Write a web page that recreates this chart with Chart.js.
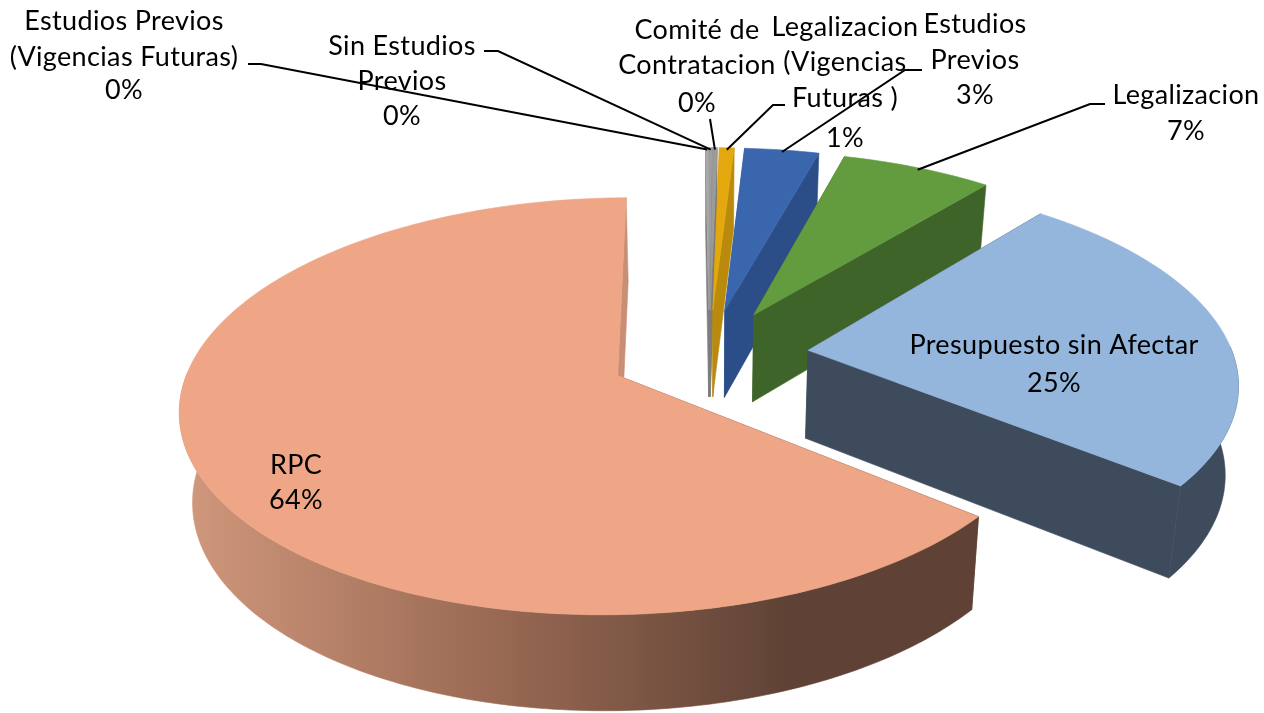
<!DOCTYPE html>
<html><head><meta charset="utf-8">
<style>html,body{margin:0;padding:0;background:#fff}#w{width:1264px;height:713px}</style>
<script src="https://cdn.jsdelivr.net/npm/chart.js@4"></script>
</head><body><div id="w"><canvas id="c" width="1264" height="713"></canvas></div>
<script>
const categories = ["Estudios Previos (Vigencias Futuras)","Sin Estudios Previos","Comité de Contratacion","Legalizacion (Vigencias Futuras )","Legalizacion Estudios Previos","Legalizacion","Presupuesto sin Afectar","RPC"];
const values = [0.15,0.1,0.2,0.65,3.3,6.7,24.8,64];
const topColors = ["#A8A8A8","#A0A0A0","#9A9A9A","#E3A80E","#3A66AE","#639C3F","#95B6DC","#EFA687"];
const sideColors = ["#7C7C7C","#7C7C7C","#7C7C7C","#B98A0B","#2C4E88","#3F6429",  "#3E4B5C","#C98F75"];
const labelLines = [["Estudios Previos","(Vigencias Futuras)"],["Sin Estudios","Previos"],["Comité de","Contratacion"],["Legalizacion","(Vigencias","Futuras )"],["Estudios","Previos"],["Legalizacion"],["Presupuesto sin Afectar"],["RPC"]];
const labelX = [124,402,697,845,975,1186,1054,296];
const labelY = [[21,57,90],[46,81,116],[30,65,103],[27,62,98,138],[24,60,95],[95,131],[345,383],[465,500]];
const leaderStubs = [[[248,64],[261,64]],[[484,51],[498,51]],[[710,119]],[[785,105],[773,105]],[[922,70],[905,70]],[[1105,104],[1090,104]],null,null];

const view = {ox:709, oy:355, s:425, t:198, k:0.145, shrink:0.975, depth:88, grow:0.03};
function proj(u,v){const w=1-view.k*v;return [view.ox+u*view.s/w, view.oy+v*view.t/w];}
function lower(p){return [view.ox+(p[0]-view.ox)*view.shrink, p[1]+view.depth+(p[1]-350)*view.grow];}
function poly(ctx,pts,fill){ctx.beginPath();pts.forEach((p,i)=>i?ctx.lineTo(p[0],p[1]):ctx.moveTo(p[0],p[1]));ctx.closePath();ctx.fillStyle=fill;ctx.strokeStyle=fill;ctx.lineWidth=0.6;ctx.fill();ctx.stroke();}

const pie3d = {
  id:'pie3d',
  beforeDatasetsDraw(chart){
    const ctx=chart.ctx, arcs=chart.getDatasetMeta(0).data;
    const rims=[];
    arcs.forEach((a,i)=>{
      const d=a.options.offset/a.outerRadius, mid=(a.startAngle+a.endAngle)/2;
      const cu=d*Math.cos(mid), cv=d*Math.sin(mid);
      const n=Math.max(3,Math.ceil((a.endAngle-a.startAngle)*60));
      const rim=[], front=[];
      for(let j=0;j<=n;j++){
        const t=a.startAngle+(a.endAngle-a.startAngle)*j/n;
        const p=proj(cu+Math.cos(t),cv+Math.sin(t));
        rim.push(p);
        if(Math.sin(t)>=-0.02)front.push(p);
      }
      const apex=proj(cu,cv);
      rims.push(proj(cu+Math.cos(mid),cv+Math.sin(mid)));
      const apexLow=lower(apex);
      let sideFill=sideColors[i];
      if(i===7){
        const g=ctx.createLinearGradient(190,0,790,0);
        g.addColorStop(0,"#CF977B");g.addColorStop(0.5,"#9A6A54");g.addColorStop(1,"#5F4235");
        sideFill=g;
      }
      poly(ctx,[apex,rim[0],lower(rim[0]),apexLow],i===7?"#5F4235":sideColors[i]);
      poly(ctx,[apex,rim[n],lower(rim[n]),apexLow],sideColors[i]);
      if(front.length>1)poly(ctx,front.concat(front.map(lower).reverse()),sideFill);
      poly(ctx,[apex].concat(rim),topColors[i]);
    });
    ctx.save();
    ctx.strokeStyle="#000";ctx.lineWidth=2;
    leaderStubs.forEach((s,i)=>{
      if(!s)return;
      ctx.beginPath();
      s.forEach((p,j)=>j?ctx.lineTo(p[0],p[1]):ctx.moveTo(p[0],p[1]));
      ctx.lineTo(rims[i][0],rims[i][1]+2);ctx.stroke();
    });
    ctx.fillStyle="#000";ctx.font="27px Lato";ctx.letterSpacing="0.35px";ctx.textAlign="center";ctx.textBaseline="middle";
    const tot=values.reduce((a,b)=>a+b,0);
    categories.forEach((c,i)=>{
      const lines=labelLines[i].concat([Math.round(values[i]/tot*100)+"%"]);
      lines.forEach((l,j)=>ctx.fillText(l,labelX[i],labelY[i][j]));
    });
    ctx.restore();
    return false;
  }
};
new Chart(document.getElementById('c'),{
  type:'pie',
  data:{labels:categories,datasets:[{data:values,backgroundColor:topColors,offset:75,borderWidth:0,hoverOffset:0}]},
  options:{responsive:false,animation:false,rotation:-0.5,events:[],layout:{padding:0},plugins:{legend:{display:false},tooltip:{enabled:false}}},
  plugins:[pie3d]
});
</script></body></html>
